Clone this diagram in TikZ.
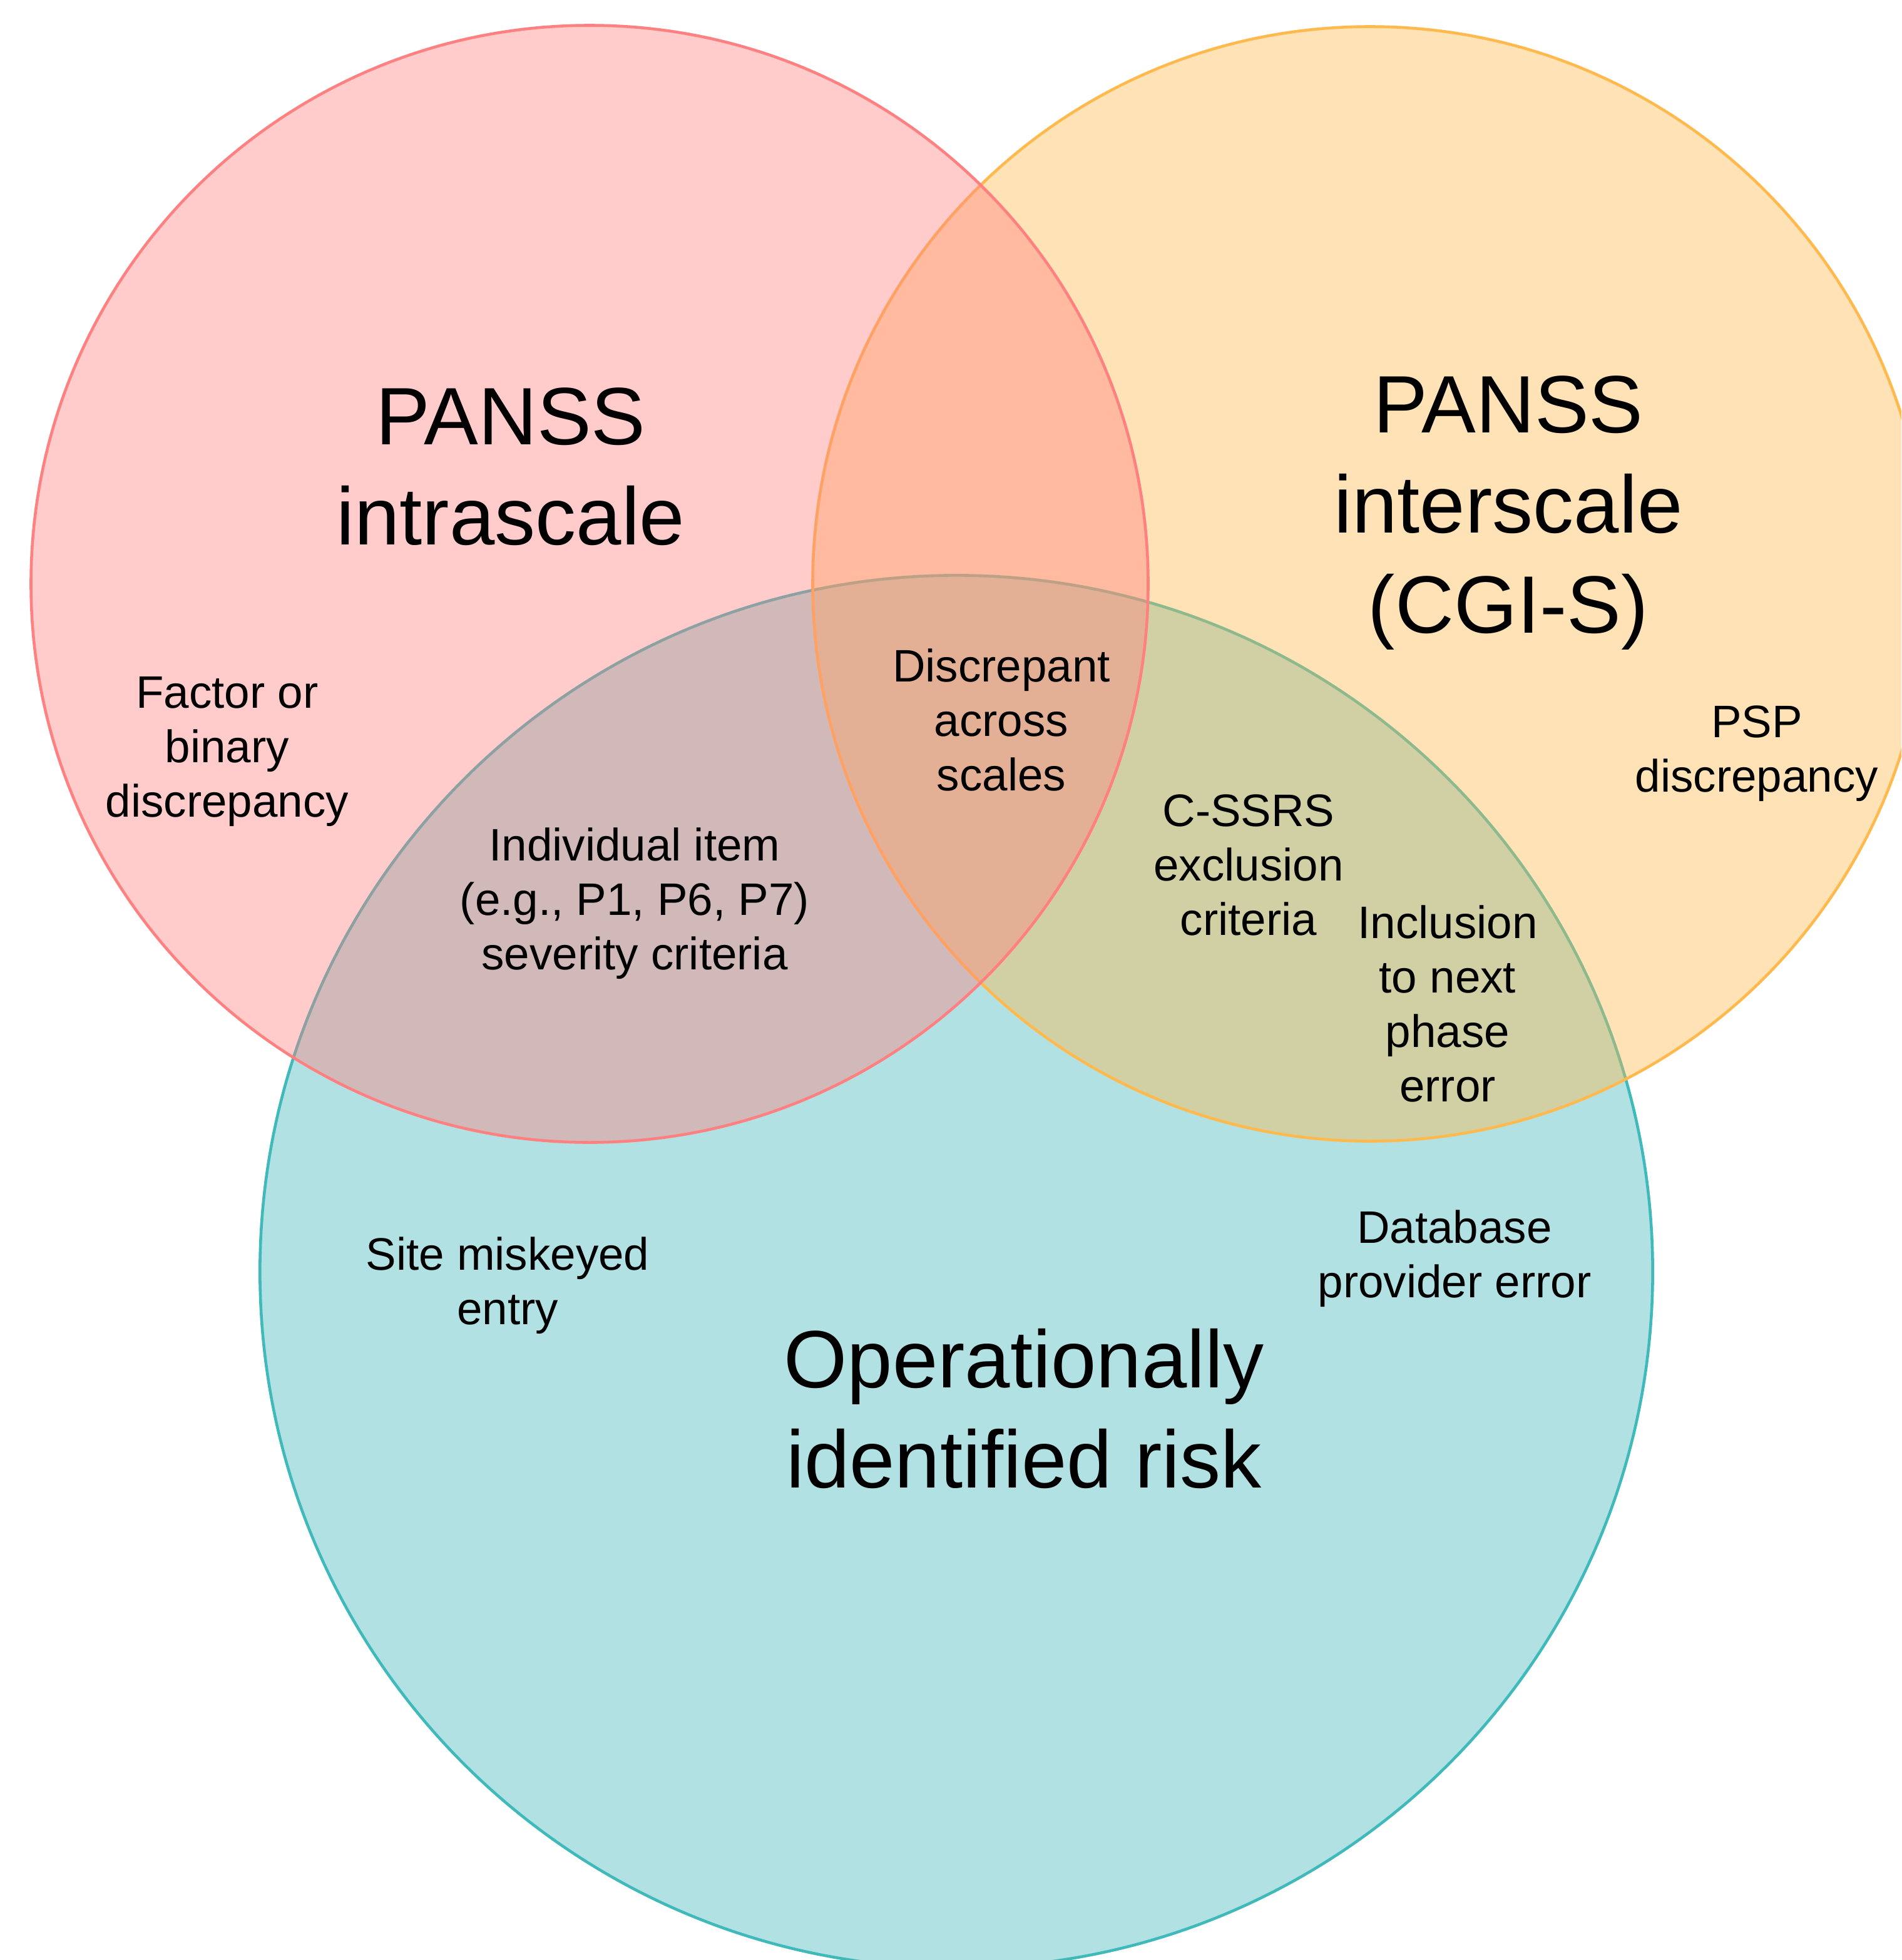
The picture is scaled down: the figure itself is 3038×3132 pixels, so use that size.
\documentclass[tikz,border=0pt]{standalone}
\usepackage{fontspec}
\setmainfont{Liberation Sans}
\definecolor{tealfill}{RGB}{178,225,227}
\definecolor{tealline}{RGB}{63,185,186}
\definecolor{orangeline}{RGB}{255,185,77}
\definecolor{redline}{RGB}{255,128,128}
\tikzset{
  set/.style={line width=1.3pt},
  biglabel/.style={align=center, inner sep=0pt, anchor=base, font=\fontsize{37pt}{45.5pt}\selectfont},
  smalllabel/.style={align=center, inner sep=0pt, anchor=base, font=\fontsize{20.7pt}{24.7pt}\selectfont}
}
\begin{document}
\begin{tikzpicture}[x=0.01cm, y=-0.01cm]
\useasboundingbox (0,0) rectangle (3038,3132);
\clip (0,0) rectangle (3038,3132);
% circles
\coordinate (cT) at (1528,2032);
\coordinate (cO) at (2189,933);
\coordinate (cR) at (942,933);
\draw[set, draw=tealline, fill=tealfill] (cT) circle [radius=11.12cm];
\draw[set, draw=orangeline, fill=orangeline, fill opacity=0.41] (cO) circle [radius=8.90cm];
\draw[set, draw=redline, fill=redline, fill opacity=0.41] (cR) circle [radius=8.92cm];
% big labels (anchor = baseline of last line)
\node[biglabel] (intra) at (816,870) {PANSS\\intrascale};
\node[biglabel] (inter) at (2410,1011) {PANSS\\interscale\\(CGI-S)};
\node[biglabel] (oper) at (1636,2377) {Operationally\\identified risk};
% small labels
\node[smalllabel] (factor) at (363,1305) {Factor or\\binary\\discrepancy};
\node[smalllabel] (indiv) at (1014,1549) {Individual item\\(e.g., P1, P6, P7)\\severity criteria};
\node[smalllabel] (discr) at (1600,1263) {Discrepant\\across\\scales};
\node[smalllabel] (cssrs) at (1995,1494) {C-SSRS\\exclusion\\criteria};
\node[smalllabel] (incl) at (2313,1760) {Inclusion\\to next\\phase\\error};
\node[smalllabel] (psp) at (2807,1265) {PSP\\discrepancy};
\node[smalllabel] (dbase) at (2324,2073) {Database\\provider error};
\node[smalllabel] (site) at (811,2116) {Site miskeyed\\entry};
\end{tikzpicture}
\end{document}
